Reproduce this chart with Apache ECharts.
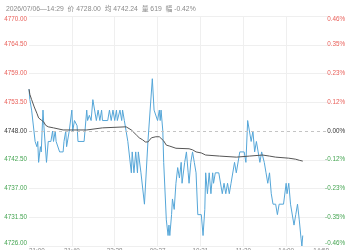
<!DOCTYPE html>
<html><head><meta charset="utf-8">
<script src="https://cdn.jsdelivr.net/npm/echarts@6/dist/echarts.min.js"></script>
<style>html,body{margin:0;padding:0;background:#fff}#c{width:350px;height:250px}</style>
</head><body><div id="c"></div>
<script>
const title = "2026/07/06\u201414:29  价 4728.00  均 4742.24  量 619  幅 -0.42%";
const prevClose = 4748;
const xTickLabels = ["21:00","21:49","22:38","09:27","10:31","11:20","14:09","14:58"];
const xMax = 343;
const xStep = 49;
// minute index (from 21:00) and price of the price line
const priceMin = [0,1,3,5,7,9,10,11,13,14,16,17,20,22,25,27,28,30,31,33,35,39,40,42,43,46,49,50,52,55,56,63,66,67,69,71,73,75,77,79,81,83,84,90,92,94,96,98,100,101,104,106,107,109,111,113,115,117,118,120,122,124,125,126,128,132,136,141,143,145,147,149,150,151,153,154,155,157,159,160,161,163,164,166,168,170,172,174,175,178,180,182,183,185,187,189,191,193,197,199,201,202,204,206,208,210,211,213,217,221,223,225,227,229,231,235,237,241,246,248,250,252,254,256,258,260,262,264,266,267,269,271,273,275,277,279,282,284,286,291,294,295,297,299,301,303,305,307,309,311,312,313];
const priceVal = [4756,4754,4752,4752,4746,4745,4746,4742,4745,4744,4752,4749,4742,4746,4746,4748,4746,4748,4746,4746,4744,4744,4746,4748,4745,4748,4752,4748,4750,4749,4746,4746,4752,4750,4751,4750,4754,4754,4750,4752,4750,4752,4750,4750,4752,4750,4752,4750,4752,4750,4752,4750,4752,4750,4750,4746,4746,4740,4744,4740,4744,4740,4744,4744,4740,4734,4746,4758,4752,4752,4750,4752,4750,4752,4748,4742,4742,4731,4728,4730,4728,4732,4735,4733,4738,4741,4739,4742,4738,4742,4744,4740,4738,4742,4744,4742,4740,4732,4732,4728,4733,4740,4736,4740,4736,4740,4738,4740,4740,4736,4738,4736,4738,4736,4738,4742,4740,4744,4744,4742,4750,4750,4746,4748,4744,4746,4744,4742,4744,4744,4742,4740,4738,4740,4736,4734,4734,4732,4734,4734,4738,4736,4738,4734,4734,4730,4732,4734,4731,4727.5,4726,4728];
// average price line
const avgMin = [0,1,3,6,9,11,14,17,19,22,28,39,66,84,111,112,117,123,126,130,133,136,140,145,149,151,154,157,161,168,183,187,191,197,202,218,237,252,267,275,282,297,305,309,313];
const avgVal = [4756,4755,4754,4752.6,4751.4,4750.5,4750.1,4749.7,4749.1,4748.8,4748.6,4748.2,4748.2,4748.6,4748.8,4748.6,4748.2,4747.2,4746.7,4746.3,4745.9,4745.9,4746.7,4746.9,4746.9,4746.7,4746.1,4745.3,4745.1,4744.7,4744.6,4744.4,4744.0,4743.8,4743.4,4743.2,4743.0,4743.2,4743.4,4743.2,4743.0,4742.8,4742.6,4742.4,4742.24];
const yRange = 22, yStep = 5.5;

const RED = '#e9605a', GREEN = '#45a552', DARK = '#333';
const font = 'Liberation Sans, Arial, Noto Sans CJK SC, sans-serif';
const colorFor = v => Math.abs(v) < 1e-9 ? DARK : (v > 0 ? RED : GREEN);
const splitColors = [];
for (let i = 0; i <= 8; i++) splitColors.push(i === 4 ? 'rgba(0,0,0,0)' : '#efefef');

const chart = echarts.init(document.getElementById('c'), null, {renderer: 'canvas'});
chart.setOption({
  animation: false,
  title: {text: title, left: 1, top: 1, textStyle: {fontSize: 6.8, fontWeight: 'normal', color: '#8a8a8a', fontFamily: font}},
  grid: {left: 29, right: 21, top: 16, bottom: 4, containLabel: false, outerBoundsMode: 'none'},
  xAxis: {
    type: 'value', min: 0, max: xMax, interval: xStep,
    axisLine: {show: false}, axisTick: {show: false},
    splitLine: {show: true, showMinLine: false, showMaxLine: false, lineStyle: {color: '#efefef', width: 1}},
    axisLabel: {fontSize: 6.3, color: '#888', margin: 2, fontFamily: font,
      alignMinLabel: 'left', alignMaxLabel: 'right',
      formatter: v => xTickLabels[Math.round(v / xStep)]}
  },
  yAxis: [{
    type: 'value', min: -yRange, max: yRange, interval: yStep,
    axisLine: {show: false}, axisTick: {show: false},
    splitLine: {show: true, lineStyle: {color: splitColors, width: 1}},
    axisLabel: {fontSize: 6.3, margin: 2, fontFamily: font,
      verticalAlignMinLabel: 'bottom', verticalAlignMaxLabel: 'top',
      color: v => colorFor(+v),
      formatter: v => (v + prevClose).toFixed(2)}
  }, {
    type: 'value', min: -yRange, max: yRange, interval: yStep, position: 'right',
    axisLine: {show: false}, axisTick: {show: false}, splitLine: {show: false},
    axisLabel: {fontSize: 6.3, margin: 16, align: 'right', fontFamily: font,
      verticalAlignMinLabel: 'bottom', verticalAlignMaxLabel: 'top',
      color: v => colorFor(+v),
      formatter: v => { const p = v / prevClose * 100; return (Math.abs(p) < 1e-9 ? '0.00' : p.toFixed(2)) + '%'; }}
  }],
  series: [{
    type: 'line', showSymbol: false, symbol: 'none',
    data: priceMin.map((m, i) => [m, priceVal[i] - prevClose]),
    lineStyle: {color: '#55a6d8', width: 1}, itemStyle: {color: '#55a6d8'},
    markLine: {silent: true, symbol: 'none', label: {show: false},
      lineStyle: {color: '#c4c4c4', type: [3, 3], width: 1}, data: [{yAxis: 0}]}
  }, {
    type: 'line', showSymbol: false, symbol: 'none',
    data: avgMin.map((m, i) => [m, avgVal[i] - prevClose]),
    lineStyle: {color: '#555', width: 1}, itemStyle: {color: '#555'}
  }]
});
</script></body></html>
